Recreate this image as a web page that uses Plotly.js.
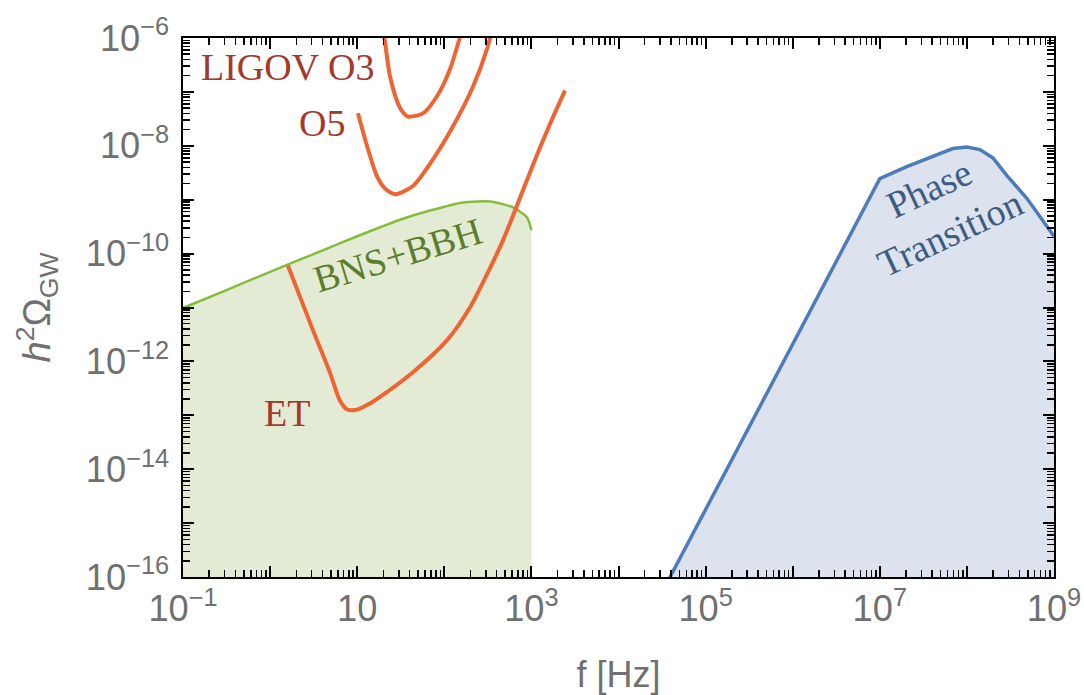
<!DOCTYPE html>
<html>
<head>
<meta charset="utf-8">
<script src="https://cdn.plot.ly/plotly-3.0.1.min.js"></script>
<style>
  html, body { margin: 0; padding: 0; background: #fff; }
  #chart { width: 1084px; height: 695px; }
</style>
</head>
<body>
<div id="chart"></div>
<script>
// Gravitational-wave energy density h^2 Omega_GW versus frequency f [Hz]

// Astrophysical background from binary neutron stars + binary black holes
const bnsFreq  = [0.1, 0.316, 1, 3.16, 10, 31.6, 68.5, 164, 335, 615, 889, 1000];
const bnsOmega = [9.8e-12, 2.1e-11, 4.6e-11, 9.8e-11, 2.1e-10, 4.3e-10, 6.3e-10, 8.9e-10, 9.3e-10, 7.2e-10, 4.7e-10, 2.7e-10];

// First-order phase transition spectrum
const ptFreq  = [3.16e4, 1.0e7, 2.04e7, 4.08e7, 6.9e7, 1.0e8, 1.41e8, 2.0e8, 2.88e8, 4.9e8, 9.5e8, 1e9];
const ptOmega = [5.2e-17, 2.45e-9, 4.1e-9, 6.3e-9, 8.9e-9, 9.5e-9, 8.5e-9, 5.9e-9, 2.8e-9, 1.05e-9, 2.3e-10, 2.1e-10];

// Detector sensitivity curves
const o3Freq  = [19.6, 20.8, 23.8, 29.4, 32.7, 38.3, 56.9, 82.4, 116, 144, 166];
const o3Omega = [1.7e-6, 8.7e-7, 1.95e-7, 6.1e-8, 4.4e-8, 3.5e-8, 4.0e-8, 8.3e-8, 2.6e-7, 7.9e-7, 1.7e-6];

const o5Freq  = [10.2, 13.0, 16.9, 20.8, 27.2, 43.7, 74.1, 126, 214, 309, 353];
const o5Omega = [4.0e-8, 9.8e-9, 2.7e-9, 1.62e-9, 1.26e-9, 1.8e-9, 5.6e-9, 2.3e-8, 1.26e-7, 6.2e-7, 1.38e-6];

const etFreq  = [1.6, 3.1, 4.9, 6.3, 7.6, 9.5, 13.0, 18.3, 43.7, 107, 197, 335, 472, 649, 889, 1256, 1770, 2432];
const etOmega = [6.0e-11, 3.8e-12, 6.0e-13, 1.9e-13, 1.3e-13, 1.25e-13, 1.55e-13, 2.2e-13, 6.3e-13, 2.45e-12, 1.0e-11, 5.4e-11, 1.76e-10, 6.3e-10, 2.3e-9, 9.3e-9, 3.4e-8, 1.07e-7];

// Axis ticks: a major tick every decade, a label only every second decade.
// The labels of the skipped decades are blanked through labelalias.
const xHiddenLabels = ['1', '10<sup>2</sup>', '10<sup>4</sup>', '10<sup>6</sup>', '10<sup>8</sup>'];
const yHiddenLabels = ['10<sup>\u221215</sup>', '10<sup>\u221213</sup>', '10<sup>\u221211</sup>', '10<sup>\u22129</sup>', '10<sup>\u22127</sup>'];

function blankAlias(labels) {
  const alias = {};
  labels.forEach(function (t) { alias[t] = ''; });
  return alias;
}

const ORANGE = '#ef6433';
const LABEL_RED = '#a5382a';
const SERIF = 'Liberation Serif, Times New Roman, serif';
const SANS = 'Liberation Sans, Arial, sans-serif';
const GREY = '#707070';

const traces = [
  {
    x: bnsFreq, y: bnsOmega, type: 'scatter', mode: 'lines',
    fill: 'tozeroy', fillcolor: '#e4ebd4',
    line: { color: '#86bc3c', width: 2.5, shape: 'spline', smoothing: 0.6 },
    hoverinfo: 'skip'
  },
  {
    x: ptFreq, y: ptOmega, type: 'scatter', mode: 'lines',
    fill: 'tozeroy', fillcolor: '#dce3ef',
    line: { color: '#4e7cb8', width: 3.5 },
    hoverinfo: 'skip'
  },
  {
    x: o3Freq, y: o3Omega, type: 'scatter', mode: 'lines',
    line: { color: ORANGE, width: 4, shape: 'spline', smoothing: 0.7 },
    hoverinfo: 'skip'
  },
  {
    x: o5Freq, y: o5Omega, type: 'scatter', mode: 'lines',
    line: { color: ORANGE, width: 4, shape: 'spline', smoothing: 0.7 },
    hoverinfo: 'skip'
  },
  {
    x: etFreq, y: etOmega, type: 'scatter', mode: 'lines',
    line: { color: ORANGE, width: 4, shape: 'spline', smoothing: 0.7 },
    hoverinfo: 'skip'
  }
];

function labelFont(color) {
  return { family: SERIF, size: 38, color: color };
}

// Power-format log labels are drawn 1.25x the tick font size.
// Long inward ticks every decade, short inward minor ticks at 2..9.
function axisStyle() {
  return {
    dtick: 1, exponentformat: 'power',
    ticks: 'inside', ticklen: 11, tickwidth: 2, tickcolor: '#000',
    minor: { dtick: 'D1', ticks: 'inside', ticklen: 7, tickwidth: 1.5, tickcolor: '#000', showgrid: false },
    showline: true, linecolor: '#000', linewidth: 2, mirror: 'ticks',
    showgrid: false, zeroline: false,
    tickfont: { family: SANS, size: 29, color: GREY }
  };
}

const layout = {
  width: 1084, height: 695, autosize: false,
  margin: { l: 183, r: 30, t: 38, b: 118 },
  paper_bgcolor: '#ffffff', plot_bgcolor: '#ffffff',
  showlegend: false,
  font: { family: SANS, color: GREY },
  xaxis: Object.assign(axisStyle(), {
    type: 'log', range: [-1, 9], tick0: -1,
    labelalias: blankAlias(xHiddenLabels),
    title: { text: 'f [Hz]', font: { family: SANS, size: 36, color: GREY }, standoff: 34 }
  }),
  yaxis: Object.assign(axisStyle(), {
    type: 'log', range: [-16, -6], tick0: -16,
    labelalias: blankAlias(yHiddenLabels),
    ticklabelstandoff: 6
  }),
  annotations: [
    // vertical axis title
    { xref: 'paper', yref: 'paper', x: 0, y: 0.5, xanchor: 'center', yanchor: 'middle', xshift: -146,
      textangle: -90, showarrow: false,
      text: '<i>h</i><sup>2</sup>\u03a9<sub>GW</sub>', font: { family: SANS, size: 38, color: GREY } },
    { xref: 'x', yref: 'y', x: 0.205, y: -6.53, text: 'LIGOV O3', showarrow: false, font: labelFont(LABEL_RED) },
    { xref: 'x', yref: 'y', x: 0.596, y: -7.57, text: 'O5', showarrow: false, font: labelFont(LABEL_RED) },
    { xref: 'x', yref: 'y', x: 0.194, y: -12.96, text: 'ET', showarrow: false, font: labelFont(LABEL_RED) },
    { xref: 'x', yref: 'y', x: 1.468, y: -10.03, text: 'BNS+BBH', showarrow: false, textangle: -17, font: labelFont('#5a7e2c') },
    { xref: 'x', yref: 'y', x: 7.69, y: -9.2, text: 'Phase<br>Transition', showarrow: false, textangle: -25, font: labelFont('#3f5b82') }
  ]
};

Plotly.newPlot('chart', traces, layout, { staticPlot: true, displayModeBar: false });
</script>
</body>
</html>
